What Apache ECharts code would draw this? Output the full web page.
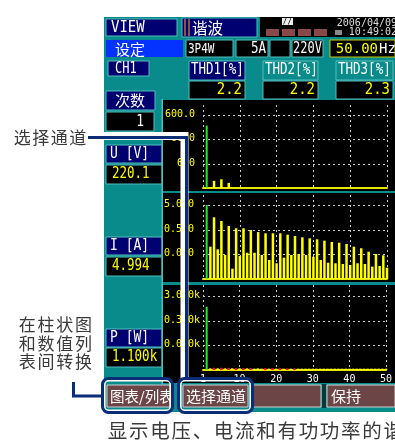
<!DOCTYPE html>
<html>
<head>
<meta charset="utf-8">
<script src="https://cdn.jsdelivr.net/npm/echarts@6/dist/echarts.min.js"></script>
<style>html,body{margin:0;padding:0;background:#fff;}#c{width:395px;height:446px;}</style>
</head>
<body>
<div id="c"></div>
<script>
// ---------------- data ----------------
const orders = [1,2,3,4,5,6,7,8,9,10,11,12,13,14,15,16,17,18,19,20,21,22,23,24,25,26,27,28,29,30,31,32,33,34,35,36,37,38,39,40,41,42,43,44,45,46,47,48,49,50];
const xTickLabels = ['1','10','20','30','40','50'];

// voltage harmonics [V] (orders not listed are below the visible range)
const uHarm = [220.1,null,1.18,null,1.37,null,0.97,
  null,null,null,null,null,null,null,null,null,null,
  null,null,null,null,null,null,null,null,null,null,
  null,null,null,null,null,null,null,null,null,null,
  null,null,null,null,null,null,null,null,null,null,
  null,null,null];
const uTicks = [600, 60, 6];
const uTickLabels = ['600.0','60.0','6.0'];

// current harmonics [A]
const iHarm = [4.994,0.102,1.585,0.080,1.12,0.047,0.705,0.0131,0.569,0.0429,
  0.569,0.058,0.485,0.058,0.40,0.047,0.356,0.0295,0.356,0.0217,
  0.356,0.0366,0.313,0.047,0.277,0.0516,0.245,0.047,0.223,0.040,
  0.204,0.0295,0.179,0.0229,0.158,0.0217,0.148,0.0203,0.131,0.0185,
  0.102,0.0217,0.088,0.0203,0.064,0.0158,0.0516,0.0168,0.0457,0.0144];
const iTicks = [5, 0.5, 0.05];
const iTickLabels = ['5.000','0.500','0.050'];

// active power harmonics [W] (magnitudes), orders with negative power drawn red
const pHarm = [1100,3.5,3.7,3.5,3.7,3.5,3.7,3.5,3.6,3.5,
  3.6,3.5,3.6,3.4,3.5,3.4,3.6,3.4,3.6,3.4,
  3.6,3.4,3.5,3.4,3.5,3.4,3.4,3.4,3.4,3.4,
  3.4,3.4,3.4,3.4,3.4,3.4,3.4,3.4,3.4,3.4,
  3.4,3.4,3.4,3.4,3.4,3.4,3.4,3.4,3.4,3.4];
const pNegOrders = [3,5,7,9,11,13,17,19,21,23,25];
const pTicks = [3000, 300, 30];
const pTickLabels = ['3.000k','0.300k','0.030k'];

// readouts
const thdLabels = ['THD1[%]','THD2[%]','THD3[%]'];
const thdValues = ['2.2','2.2','2.3'];
const chanLabels = ['U [V]','I [A]','P [W]'];
const chanValues = ['220.1','4.994','1.100k'];

// ---------------- styling helpers ----------------
const MONO = '"DejaVu Sans Mono", monospace';
const CJK = '"Noto Sans CJK SC", sans-serif';
const TEAL = '#0a8b8b', NAVY = '#000070', EDGE = '#52bcbc', YEL = '#ffff00';
const GREEN = '#22ee22', RED = '#ee1111', ANNO = '#0b2d78';

const G = [];
function box(x, y, w, h, fill, stroke, z, r) {
  G.push({type:'rect', silent:true, z: z == null ? 0 : z,
    shape:{x:x, y:y, width:w, height:h, r: r || 0},
    style:{fill: fill, stroke: stroke || null, lineWidth: stroke ? 1 : 0}});
}
function txt(x, y, s, o) {
  o = o || {};
  G.push({type:'text', silent:true, z: o.z == null ? 1 : o.z, x:x, y:y, scaleY: o.sy || 1,
    style:{text:s, fill:o.c || '#fff', font:(o.w ? o.w + ' ' : '') + (o.size || 12) + 'px ' + (o.f || MONO),
      textAlign:o.a || 'left', textVerticalAlign:'middle'}});
}
function chars(x, y, s, adv, size, color, z) {
  Array.from(s).forEach(function (ch, i) {
    txt(x + i * adv + adv / 2, y, ch, {a:'center', size:size, c:color, f:CJK, z:z});
  });
}
function poly(points, color, width, z) {
  G.push({type:'polyline', silent:true, z:z, shape:{points:points},
    style:{stroke:color, lineWidth:width, fill:null, lineJoin:'miter', lineCap:'butt'}});
}

// instrument screen background
box(104, 17, 291, 395, TEAL, null, 0);

// top row
box(106, 19, 71, 17, NAVY, EDGE, 0);
txt(111, 28, 'VIEW', {size:14, sy:1.15});
box(182, 18, 75, 19, NAVY, EDGE, 0);
box(184, 19, 2, 17, '#8a5050', null, 0);
box(188, 19, 2, 17, '#8a5050', null, 0);
txt(192, 28, '谐波', {size:15.5, f:CJK});
box(260, 17, 135, 20, '#000', null, 0);
[266, 282, 298, 314].forEach(function (x) { box(x, 29, 13, 7, '#8a4848', null, 0); });
box(282, 18, 11, 7, '#eee', null, 0);
txt(287.5, 21.5, '//', {size:8, c:'#000', a:'center'});
box(335, 30, 7, 5, '#888', null, 0);
txt(397, 23, '2006/04/09', {size:10, c:'#ddd', a:'right'});
txt(397, 32, '10:49:02', {size:10, c:'#ddd', a:'right'});

// second row
box(106, 40, 77, 17, '#0433ff', null, 0);
txt(115, 49, '设定', {size:15, f:CJK});
box(186, 40, 47, 17, '#000', EDGE, 0);
txt(188, 49, '3P4W', {size:11, sy:1.3});
box(236, 40, 32, 17, '#000', EDGE, 0);
txt(266, 49, '5A', {size:12.5, sy:1.2, a:'right'});
box(270, 40, 20, 17, '#000', EDGE, 0);
box(292, 40, 31, 17, '#000', EDGE, 0);
txt(293, 49, '220V', {size:12, sy:1.25});
box(330, 40, 65, 17, '#000', '#c8c800', 0);
txt(378, 49, '50.00', {size:14, c:YEL, a:'right'});
txt(379, 49, 'Hz', {size:14});

// third row
box(108, 61, 41, 15, NAVY, EDGE, 0);
txt(115, 69, 'CH1', {size:12, sy:1.25});
var thdX = [189, 263, 336], thdW = [56, 55, 57];
thdLabels.forEach(function (s, k) {
  box(thdX[k], 61, thdW[k], 19, k === 0 ? NAVY : TEAL, EDGE, 0);
  txt(thdX[k] + 2, 70.5, s, {size:12.5, sy:1.2});
  box(thdX[k], 81, thdW[k], 18, '#000', EDGE, 0);
  txt(thdX[k] + thdW[k] - 3, 90, thdValues[k], {size:14, c:YEL, a:'right', sy:1.1});
});

// order selector
box(106, 91, 49, 19, NAVY, EDGE, 0);
txt(115, 100.5, '次数', {size:15, f:CJK});
box(106, 112, 48, 19, '#000', EDGE, 0);
txt(144, 121.5, '1', {size:13, a:'right', sy:1.2});

// channel readouts
var chY = [[145, 165], [237, 257], [329, 348]];
chanLabels.forEach(function (s, k) {
  box(106, chY[k][0], 56, 18, NAVY, EDGE, 0);
  txt(110, chY[k][0] + 9, s, {size:13, sy:1.2});
  box(106, chY[k][1], 56, 19, '#000', EDGE, 0);
  txt(112, chY[k][1] + 9.5, chanValues[k], {size:12.5, c:YEL, sy:1.2});
});

// chart panels
box(161.5, 99, 1.5, 285, EDGE, null, 0);
box(163, 100, 232, 91, '#000', null, 0);
box(163, 193, 232, 89, '#000', null, 0);
box(163, 285, 232, 98, '#000', null, 0);

// soft keys
var BTN = '#6c4646';
box(107, 385, 63, 22, BTN, '#cfcfcf', 0);
txt(110, 396, '图表/列表', {size:14.5, f:CJK});
box(183, 385, 65, 22, BTN, '#cfcfcf', 0);
txt(186, 396, '选择通道', {size:15, f:CJK});
box(252, 385, 69, 22, BTN, '#cfcfcf', 0);
box(322, 384, 4, 24, '#073a3a', null, 0);
box(327, 385, 68, 22, BTN, '#cfcfcf', 0);
txt(331, 396, '保持', {size:15, f:CJK});

// annotations
poly([[90, 136], [184.5, 136], [184.5, 379]], '#fff', 8, 100);
poly([[88, 137.5], [186.5, 137.5], [186.5, 379]], ANNO, 3, 101);
poly([[73.5, 382], [73.5, 396], [103, 396]], ANNO, 3, 101);
G.push({type:'rect', silent:true, z:101, shape:{x:102.5, y:378.5, width:70, height:34, r:6}, style:{fill:null, stroke:ANNO, lineWidth:3}});
G.push({type:'rect', silent:true, z:101, shape:{x:104.8, y:380.8, width:65.4, height:29.4, r:4}, style:{fill:null, stroke:'#fff', lineWidth:1.5}});
G.push({type:'rect', silent:true, z:101, shape:{x:178.5, y:378.5, width:74, height:34, r:6}, style:{fill:null, stroke:ANNO, lineWidth:3}});
G.push({type:'rect', silent:true, z:101, shape:{x:180.8, y:380.8, width:69.4, height:29.4, r:4}, style:{fill:null, stroke:'#fff', lineWidth:1.5}});

chars(13, 137.5, '选择通道', 18.5, 17, '#3a3a3a', 101);
chars(18, 325, '在柱状图', 18.7, 17, '#3a3a3a', 101);
chars(18, 343.5, '和数值列', 18.7, 17, '#3a3a3a', 101);
chars(18, 362, '表间转换', 18.7, 17, '#3a3a3a', 101);
chars(107, 431, '显示电压、电流和有功功率的谐', 21.2, 19.5, '#3a3a3a', 101);

// ---------------- charts ----------------
const panels = [
  {vals:uHarm, min:0.6,   max:1550, ticks:uTicks, labels:uTickLabels, top:105, height:83, gap:8},
  {vals:iHarm, min:0.005, max:12.7, ticks:iTicks, labels:iTickLabels, top:195, height:84, gap:9},
  {vals:pHarm, min:3,     max:8370, ticks:pTicks, labels:pTickLabels, top:285, height:85, gap:3}
];

const grid = [], xAxis = [], yAxis = [], series = [];
panels.forEach(function (p, i) {
  grid.push({left:203, top:p.top, width:184, height:p.height, containLabel:false});
  xAxis.push({type:'value', gridIndex:i, min:0, max:50, interval:10, z:3,
    axisLine:{show:true, onZero:false, lineStyle:{color:'#e6e600', width:2}},
    axisTick:{show:false},
    splitLine:{show:true, showMinLine:true, showMaxLine:true, lineStyle:{color:'#c8c8c8', width:1, type:[2, 3]}},
    axisLabel:{show:i === 2, color:'#fff', fontSize:10, fontFamily:MONO, margin:4,
      formatter:function (v, idx) { return xTickLabels[idx]; }}});
  yAxis.push({type:'log', logBase:10, gridIndex:i, min:p.min, max:p.max,
    axisLine:{show:false}, axisTick:{show:false}, axisLabel:{show:false}, splitLine:{show:false}});

  // horizontal grid lines with labels
  series.push({type:'custom', xAxisIndex:i, yAxisIndex:i, z:4, silent:true,
    data:p.ticks.map(function (t) { return [0, t]; }),
    encode:{x:0, y:1},
    renderItem:function (params, api) {
      var t = api.value(1);
      var a = api.coord([0, t]), b = api.coord([50, t]);
      return {type:'group', children:[
        {type:'line', shape:{x1:a[0], y1:Math.round(a[1]) + 0.5, x2:b[0], y2:Math.round(b[1]) + 0.5},
          style:{stroke:'#c8c8c8', lineWidth:1, lineDash:[2, 3]}},
        {type:'text', x:a[0] - p.gap, y:a[1] - 0.5,
          style:{text:p.labels[params.dataIndex], fill:YEL, font:'10px ' + MONO,
            textAlign:'right', textVerticalAlign:'middle'}}
      ]};
    }});

  // harmonic bars
  series.push({type:'custom', xAxisIndex:i, yAxisIndex:i, z:5, silent:true,
    data:orders.map(function (o, k) { return [o, p.vals[k]]; }),
    encode:{x:0, y:1},
    renderItem:function (params, api) {
      var o = api.value(0), v = api.value(1);
      if (!(v > 0)) return null;
      var top = api.coord([o, v]), base = api.coord([o, p.min]);
      var fill = o === 1 ? GREEN : (i === 2 && pNegOrders.indexOf(o) >= 0 ? RED : YEL);
      var w = o === 1 ? 2 : 2.5;
      return {type:'rect', shape:{x:top[0] - w / 2, y:top[1], width:w, height:base[1] - top[1]},
        style:{fill:fill}};
    }});
});

const chart = echarts.init(document.getElementById('c'), null, {renderer:'canvas'});
chart.setOption({
  animation:false,
  backgroundColor:'#fff',
  grid:grid, xAxis:xAxis, yAxis:yAxis, series:series,
  graphic:{elements:G}
});
</script>
</body>
</html>
